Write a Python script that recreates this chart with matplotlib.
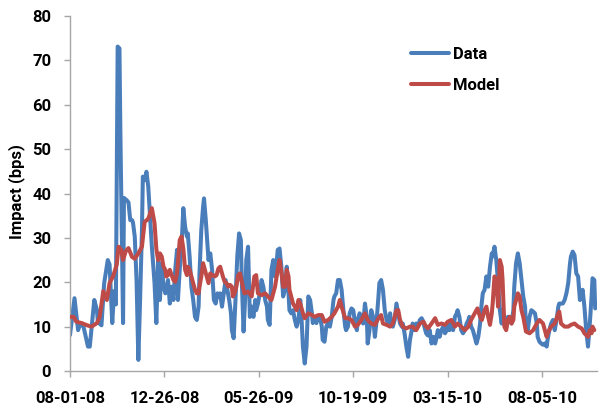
import matplotlib
matplotlib.use("Agg")
import matplotlib.pyplot as plt

# ── Data (trading-day index, impact in bps) ───────────────────────────
blue_day = [0, 5, 9, 11, 15, 20, 22, 27, 30, 31,
            35, 38, 42, 44, 46, 47, 49, 51, 53, 55,
            56, 57, 59, 60, 63, 65, 67, 69, 70, 72,
            74, 76, 78, 80, 81, 83, 85, 87, 89, 91,
            94, 96, 98, 100, 102, 104, 106, 107, 109, 111,
            113, 115, 117, 119, 120, 122, 124, 126, 128, 130,
            131, 133, 135, 137, 139, 141, 143, 144, 146, 148,
            149, 151, 153, 154, 156, 158, 160, 162, 164, 166,
            167, 169, 171, 173, 175, 177, 179, 180, 182, 184,
            186, 188, 190, 191, 193, 195, 196, 198, 200, 202,
            204, 206, 207, 209, 211, 213, 215, 217, 219, 220,
            222, 224, 226, 228, 230, 231, 233, 235, 237, 239,
            241, 243, 244, 246, 248, 250, 252, 254, 256, 257,
            259, 261, 263, 265, 267, 269, 270, 272, 274, 276,
            278, 280, 281, 283, 285, 287, 289, 291, 293, 294,
            296, 298, 300, 302, 304, 306, 307, 309, 311, 313,
            315, 317, 319, 320, 322, 324, 326, 328, 330, 331,
            333, 335, 337, 339, 341, 343, 344, 346, 348, 350,
            352, 354, 356, 357, 359, 361, 363, 365, 367, 369,
            370, 372, 374, 376, 378, 380, 381, 383, 385, 387,
            389, 391, 393, 394, 396, 398, 400, 402, 404, 406,
            407, 409, 411, 413, 415, 417, 419, 420, 422, 424,
            426, 428, 430, 431, 433, 435, 437, 439, 441, 443,
            444, 446, 448, 450, 452, 454, 456, 457, 459, 461,
            463, 465, 467, 469, 470, 472, 474, 476, 478, 480,
            481, 483, 485, 487, 489, 491, 493, 494, 496, 498,
            500, 502, 504, 506, 507, 509, 511, 513, 515, 517,
            519, 520, 522, 524, 526, 528, 530, 531, 533, 535,
            537, 539, 541, 543, 544, 546, 548, 550, 552, 554,
            556, 557, 559, 561, 563, 565, 567, 569, 570, 572,
            574, 576, 578, 580, 581, 583, 584]
blue_val = [8.1, 16.4, 9.2, 10.5, 10.0, 5.5, 5.5, 16.0, 13.7, 11.0,
            10.3, 19.8, 25.0, 24.0, 15.3, 10.8, 18.0, 15.0, 73.1, 72.7,
            54.0, 39.0, 10.8, 39.0, 38.5, 38.0, 34.0, 34.0, 33.5, 30.3,
            20.5, 2.5, 16.5, 31.8, 43.8, 43.0, 44.9, 41.6, 34.8, 28.1,
            19.8, 10.8, 25.0, 16.0, 24.3, 19.0, 17.5, 18.3, 20.5, 15.2,
            19.0, 16.0, 22.8, 27.3, 16.0, 22.8, 28.0, 36.7, 32.5, 30.3,
            31.0, 25.8, 19.0, 16.0, 12.2, 11.5, 14.5, 22.0, 31.8, 37.0,
            38.9, 34.0, 28.0, 25.0, 26.5, 22.8, 16.0, 15.2, 17.5, 16.8,
            17.5, 14.5, 17.5, 20.5, 18.3, 16.0, 13.0, 9.2, 7.4, 16.0,
            25.8, 31.0, 29.5, 20.5, 8.9, 17.5, 25.0, 28.0, 12.2, 14.5,
            12.2, 16.0, 13.7, 15.2, 17.5, 20.5, 19.0, 16.0, 14.5, 11.5,
            10.4, 22.8, 25.0, 21.3, 25.0, 27.3, 27.6, 23.5, 16.8, 18.3,
            23.5, 17.5, 13.7, 13.0, 13.7, 11.5, 10.0, 11.5, 16.0, 13.7,
            5.5, 1.7, 5.5, 16.8, 16.0, 13.0, 10.8, 11.5, 10.8, 12.2,
            12.2, 10.0, 7.0, 6.6, 10.0, 10.8, 10.0, 12.2, 16.0, 16.8,
            17.5, 20.5, 20.5, 18.3, 13.7, 10.0, 9.2, 10.0, 13.0, 14.1,
            13.7, 10.7, 9.2, 11.5, 13.0, 12.2, 10.7, 15.2, 12.2, 6.2,
            9.2, 13.7, 12.2, 7.7, 11.5, 16.8, 19.8, 20.5, 18.3, 13.7,
            11.5, 10.7, 13.0, 10.7, 10.0, 11.5, 15.2, 13.0, 10.7, 10.0,
            10.7, 8.5, 5.5, 3.2, 7.0, 9.2, 10.7, 9.2, 10.7, 10.0,
            11.5, 11.9, 11.1, 10.0, 8.5, 8.0, 9.2, 6.2, 7.7, 6.2,
            7.0, 9.2, 7.7, 9.2, 10.0, 8.5, 9.2, 10.7, 9.2, 10.7,
            9.2, 12.2, 13.0, 13.7, 12.2, 9.2, 8.5, 9.2, 10.7, 11.5,
            12.2, 10.0, 9.2, 7.7, 6.2, 7.7, 10.7, 13.7, 17.5, 18.3,
            21.3, 19.0, 23.5, 26.5, 25.8, 28.0, 25.0, 19.8, 13.7, 10.7,
            13.7, 11.5, 10.0, 12.2, 12.2, 10.7, 13.7, 19.0, 24.3, 26.5,
            24.3, 20.5, 16.8, 14.5, 10.0, 9.2, 12.2, 13.7, 13.4, 13.0,
            10.7, 7.7, 6.6, 6.2, 5.9, 6.2, 5.5, 7.0, 9.2, 10.7,
            11.5, 9.2, 11.5, 14.5, 15.2, 15.2, 15.2, 16.0, 17.5, 19.8,
            24.3, 25.8, 26.9, 26.1, 22.0, 21.3, 16.0, 17.5, 18.3, 14.5,
            9.2, 5.5, 10.7, 16.8, 20.9, 20.5, 14.1]

red_day = [0, 4, 7, 13, 19, 24, 30, 33, 37, 41,
           44, 48, 52, 54, 57, 59, 62, 65, 69, 72,
           76, 80, 83, 87, 91, 94, 96, 98, 100, 102,
           104, 106, 107, 109, 111, 113, 115, 117, 119, 120,
           122, 124, 126, 128, 130, 131, 133, 135, 137, 139,
           141, 143, 144, 146, 148, 150, 152, 154, 156, 157,
           159, 161, 163, 165, 167, 169, 170, 172, 174, 176,
           178, 180, 181, 183, 185, 187, 189, 191, 193, 194,
           198, 202, 205, 207, 209, 213, 217, 220, 224, 228,
           231, 233, 235, 237, 239, 241, 243, 244, 246, 248,
           250, 252, 254, 256, 257, 259, 261, 265, 269, 272,
           276, 280, 283, 287, 291, 294, 298, 300, 302, 306,
           309, 313, 317, 320, 324, 328, 331, 335, 339, 343,
           346, 348, 352, 356, 359, 363, 365, 367, 370, 374,
           378, 381, 385, 389, 393, 396, 398, 402, 406, 409,
           413, 417, 420, 424, 428, 431, 435, 439, 443, 446,
           450, 453, 456, 458, 461, 463, 465, 467, 469, 470,
           472, 474, 476, 478, 480, 481, 483, 485, 487, 489,
           491, 493, 494, 498, 500, 502, 504, 506, 507, 511,
           515, 519, 522, 526, 528, 530, 531, 535, 539, 543,
           544, 546, 550, 554, 557, 561, 565, 569, 572, 576,
           578, 580, 581, 583]
red_val = [12.2, 12.2, 11.1, 10.8, 10.3, 10.0, 10.8, 12.2, 18.0, 16.0,
           19.8, 21.4, 24.0, 28.0, 27.3, 25.0, 27.0, 27.7, 25.7, 25.3,
           26.5, 28.0, 33.6, 34.3, 36.7, 33.3, 27.5, 25.0, 26.5, 25.8,
           23.5, 22.8, 21.3, 21.6, 22.8, 21.6, 20.5, 20.1, 22.0, 24.3,
           29.5, 30.3, 27.6, 22.8, 21.6, 23.5, 22.8, 21.3, 19.8, 18.3,
           17.5, 17.5, 19.0, 21.3, 24.3, 22.8, 21.3, 19.8, 22.0, 21.6,
           21.6, 21.3, 21.6, 23.1, 23.5, 22.0, 21.3, 20.1, 19.8, 19.0,
           19.4, 19.0, 16.8, 17.5, 19.0, 21.6, 22.0, 20.1, 18.3, 17.5,
           17.9, 16.8, 21.3, 21.6, 17.5, 17.1, 17.5, 16.8, 16.0, 19.0,
           22.8, 25.0, 22.4, 19.0, 19.0, 22.8, 21.3, 18.3, 16.8, 15.2,
           14.5, 13.7, 16.0, 15.2, 14.5, 13.0, 11.9, 13.0, 12.6, 12.2,
           12.6, 12.6, 11.1, 11.5, 12.2, 13.0, 14.5, 16.0, 14.5, 11.9,
           11.9, 11.5, 10.0, 10.4, 11.5, 13.0, 11.5, 10.7, 10.4, 11.9,
           12.6, 10.7, 10.4, 10.0, 10.7, 13.7, 13.7, 11.5, 10.0, 9.6,
           10.0, 10.0, 9.2, 10.7, 11.1, 10.0, 9.6, 10.7, 11.9, 10.4,
           10.7, 10.4, 11.1, 11.5, 10.0, 10.7, 10.0, 9.2, 10.0, 11.5,
           13.0, 14.1, 12.2, 11.5, 13.7, 14.5, 12.2, 10.4, 13.0, 15.2,
           21.3, 20.5, 14.5, 25.0, 23.5, 20.5, 10.0, 9.2, 11.5, 12.2,
           10.7, 11.5, 14.5, 17.5, 16.8, 13.7, 12.2, 10.0, 8.9, 8.5,
           9.2, 10.7, 11.5, 10.7, 9.2, 7.7, 8.5, 10.0, 10.7, 13.0,
           13.4, 10.7, 10.0, 10.0, 10.4, 10.7, 10.0, 9.6, 8.5, 7.7,
           9.2, 8.5, 10.0, 9.2]

tick_days   = [0, 105, 210, 315, 420, 525]
tick_labels = ["08-01-08", "12-26-08", "05-26-09", "10-19-09", "03-15-10", "08-05-10"]
y_ticks     = list(range(0, 81, 10))

# ── Figure ────────────────────────────────────────────────────────────
plt.rcParams["font.family"] = ["Roboto", "DejaVu Sans"]
plt.rcParams["font.weight"] = "bold"

fig = plt.figure(figsize=(6.13, 4.05), dpi=100)
ax = fig.add_axes([70/613, 34/405, 527/613, 355/405])

ax.plot(blue_day, blue_val, color="#4A7EBB", lw=2.9, label="Data",
        solid_joinstyle="round", solid_capstyle="round", zorder=2)
ax.plot(red_day, red_val, color="#BE4B48", lw=2.9, label="Model",
        solid_joinstyle="round", solid_capstyle="round", zorder=3)

ax.set_xlim(0, 586)
ax.set_ylim(0, 80)
ax.set_xticks(tick_days)
ax.set_xticklabels(tick_labels, fontweight="bold")
ax.set_yticks(y_ticks)
ax.set_yticklabels([str(v) for v in y_ticks], fontweight="bold")

for side in ("top", "right"):
    ax.spines[side].set_visible(False)
for side in ("left", "bottom"):
    ax.spines[side].set_color("#A6A6A6")
    ax.spines[side].set_linewidth(1.0)
ax.tick_params(axis="both", direction="out", length=4.5, width=1.0,
               color="#A6A6A6", labelsize=12, labelcolor="black")
ax.tick_params(axis="y", pad=9)
ax.tick_params(axis="x", pad=10)

fig.text(17/613, 1 - 192/405, "Impact (bps)", rotation=90, ha="center",
         va="center", fontsize=12, fontweight="bold")

# title sits mostly above the canvas, as in the source image
fig.text(527/613, 1 + 9/405, "Market Impact by Hedging", ha="right",
         va="baseline", fontsize=18, fontweight="bold")

ax.legend(loc="upper left", bbox_to_anchor=(411/613, 1 - 47/405),
          bbox_transform=fig.transFigure, frameon=False,
          handlelength=2.3, handletextpad=0.25, labelspacing=0.95,
          borderpad=0, borderaxespad=0, prop={"weight": "bold", "size": 12})

fig.savefig("out.png", dpi=100, facecolor="white")
